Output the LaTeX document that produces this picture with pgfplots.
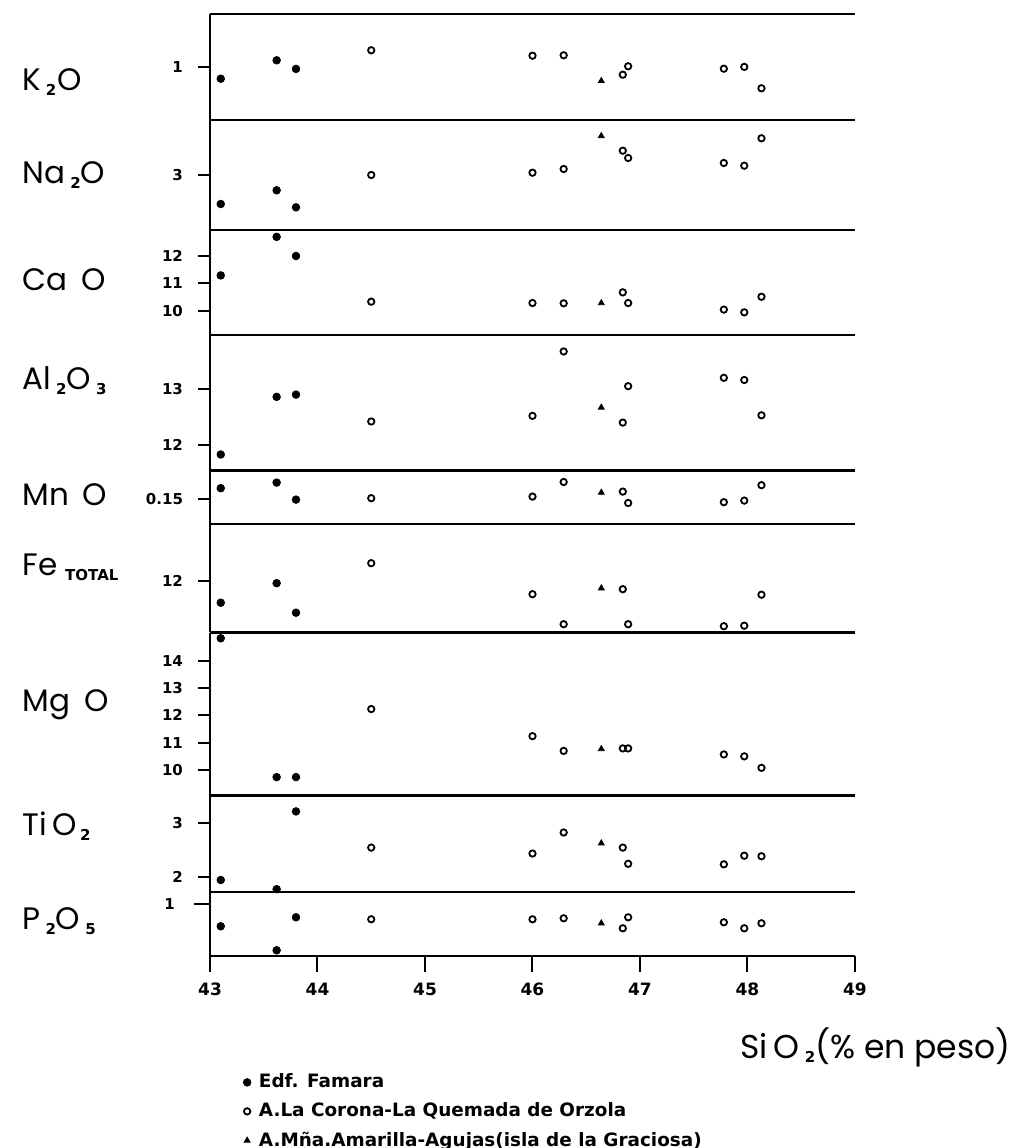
\documentclass[border=0pt]{standalone}
\usepackage{fontspec}
\usepackage{pgfplots}
\pgfplotsset{compat=1.18}
\usepackage{pgfplotstable}
\newfontfamily\pop{Poppins}
\newfontfamily\dvs{DejaVu Sans}
\newcommand\biglab{\pop\fontsize{15.5}{16}\selectfont}
\newcommand\sub[1]{\raisebox{-2.5pt}{\dvs\bfseries\fontsize{7.5}{8}\selectfont #1}}

% columns: SiO2, then the oxides of the nine panels
\pgfplotstableread{
si    k     na    ca    al    mn     fe    mg    ti   p
43.10 0.943 2.710 11.29 11.83 0.1554 11.56 14.82 1.95 0.78
43.62 1.035 2.847 12.70 12.86 0.1582 11.95 9.74  1.78 0.54
43.80 0.992 2.677 12.00 12.90 0.1497 11.36 9.74  3.22 0.87
}\famara
\pgfplotstableread{
si    k     na    ca    al    mn     fe    mg    ti   p
44.50 1.085 3.000 10.33 12.42 0.1504 12.35 12.23 2.55 0.85
46.00 1.058 3.023 10.28 12.52 0.1512 11.73 11.24 2.44 0.85
46.29 1.060 3.060 10.27 13.67 0.1585 11.13 10.70 2.83 0.86
46.84 0.963 3.243 10.67 12.40 0.1537 11.83 10.79 2.55 0.76
46.89 1.005 3.170 10.28 13.05 0.1480 11.13 10.79 2.25 0.87
47.78 0.993 3.120 10.04 13.20 0.1484 11.09 10.57 2.24 0.82
47.97 1.002 3.093 9.94  13.16 0.1492 11.10 10.50 2.40 0.76
48.13 0.895 3.367 10.51 12.53 0.1569 11.72 10.08 2.39 0.81
}\corona
\pgfplotstableread{
si    k     na    ca    al    mn     fe    mg    ti   p
46.64 0.932 3.390 10.28 12.67 0.1532 11.85 10.77 2.63 0.81
}\graciosa

\pgfplotsset{
  panel/.style={
    scale only axis, width=322.5pt, xmin=43, xmax=49,
    axis x line*=box, axis y line*=left,
    axis line style={line width=1.1pt},
    xtick=\empty, tick align=outside, ytick pos=left,
    major tick length=6pt, tick style={line width=1pt, black},
    yticklabel style={font=\dvs\bfseries\fontsize{7.5}{8}\selectfont, xshift=-4pt},
    /pgf/number format/assume math mode=true,
    clip=false, anchor=south west,
  },
  famara/.style={only marks, mark=*, mark size=1.9pt, black},
  corona/.style={only marks, mark=o, mark size=1.6pt, black, line width=0.9pt},
  gracio/.style={only marks, mark=triangle*, mark size=1.7pt, black},
}

% one panel: #1 column, #2 ymin, #3 ymax, #4 height, #5 y position, #6 yticks
\newcommand\panel[6]{%
\begin{axis}[panel, at={(105pt,#5)}, height=#4, ymin=#2, ymax=#3, ytick={#6}]
\addplot[famara] table[x=si,y=#1]{\famara};
\addplot[corona] table[x=si,y=#1]{\corona};
\addplot[gracio] table[x=si,y=#1]{\graciosa};
\end{axis}}

\begin{document}
\begin{tikzpicture}
\path[use as bounding box] (0,0) rectangle (507pt,574pt);

\panel{k}{0.7365}{1.2665}{53pt}{514pt}{1}
\panel{na}{2.45}{3.55}{55pt}{459pt}{3}
\panel{ca}{9.1115}{12.9506}{52.5pt}{406.5pt}{10,11,12}
\panel{al}{11.5446}{13.964}{67.75pt}{338.75pt}{12,13}
\begin{axis}[panel, at={(105pt,312pt)}, height=26.75pt, ymin=0.1375, ymax=0.16425,
  ytick={0.15}, yticklabels={0.15}]
\addplot[famara] table[x=si,y=mn]{\famara};
\addplot[corona] table[x=si,y=mn]{\corona};
\addplot[gracio] table[x=si,y=mn]{\graciosa};
\end{axis}
\panel{fe}{10.964}{13.134}{54.25pt}{257.75pt}{12}
\panel{mg}{9.067}{15.032}{81.5pt}{176.25pt}{10,11,12,13,14}
\panel{ti}{1.7278}{3.5148}{48.25pt}{128pt}{2,3}
\begin{axis}[panel, at={(105pt,96pt)}, height=32pt, ymin=0.483, ymax=1.123,
  major tick length=8pt,
  yticklabel style={xshift=-2pt},
  ytick={1}, xtick={43,44,45,46,47,48,49}, xtick pos=bottom,
  xticklabel style={font=\dvs\bfseries\fontsize{8.5}{9}\selectfont, yshift=-2pt},
  legend style={draw=none, fill=none, at={(axis description cs:0.0418,-2.43)},
    anchor=west, font=\dvs\bfseries\fontsize{9.2}{9.8}\selectfont,
    row sep=2pt, cells={anchor=west}},
  legend cell align=left]
\addplot[famara] table[x=si,y=p]{\famara};
\addplot[corona] table[x=si,y=p]{\corona};
\addplot[gracio] table[x=si,y=p]{\graciosa};
\legend{\hspace{2pt}Edf. Famara, \hspace{2pt}A.La Corona-La Quemada de Orzola,
  \hspace{2pt}A.Mña.Amarilla-Agujas(isla de la Graciosa)}
\end{axis}

\node[anchor=base west, inner sep=0] at (11pt,528.5pt) {\biglab K\hspace{2.5pt}\sub{2}\hspace{0.5pt}O};
\node[anchor=base west, inner sep=0] at (11pt,482pt) {\biglab Na\,\sub{2}O};
\node[anchor=base west, inner sep=0] at (11pt,428.5pt) {\biglab Ca\hspace{7pt}O};
\node[anchor=base west, inner sep=0] at (11pt,379pt) {\biglab Al\,\sub{2}O\,\sub{3}};
\node[anchor=base west, inner sep=0] at (11pt,321pt) {\biglab Mn\hspace{7pt}O};
\node[anchor=base west, inner sep=0] at (11pt,286pt) {\biglab Fe\hspace{4pt}\sub{TOTAL}};
\node[anchor=base west, inner sep=0] at (11pt,218pt) {\biglab Mg\hspace{7pt}O};
\node[anchor=base west, inner sep=0] at (11pt,156pt) {\biglab Ti\hspace{3pt}O\hspace{1.5pt}\sub{2}};
\node[anchor=base west, inner sep=0] at (11pt,109pt) {\biglab P\,\sub{2}O\,\sub{5}};
\node[anchor=base east, inner sep=0] at (505.5pt,45pt)
  {\pop\fontsize{16.5}{17}\selectfont Si\,O\,\sub{2}(\% en peso)};
\end{tikzpicture}
\end{document}
